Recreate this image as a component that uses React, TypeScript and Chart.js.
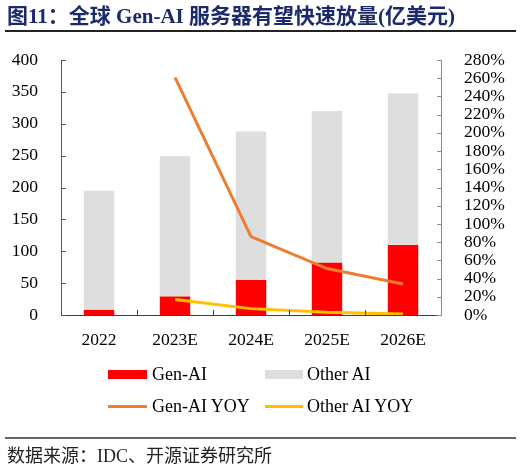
import React, { useEffect, useRef } from "react";
import { Chart, registerables } from "chart.js";

Chart.register(...registerables);

const categories = ["2022", "2023E", "2024E", "2025E", "2026E"];
const genAI = [8, 29, 55, 82, 110];
const otherAI = [187, 220, 233, 238, 238];
const genAIYoy = [null, 261, 86, 51, 34];
const otherAIYoy = [null, 17, 7, 3, 1];
const leftTicks = [0, 50, 100, 150, 200, 250, 300, 350, 400];
const rightTickStep = 20;

const SERIF = "'Liberation Serif', 'Times New Roman', 'Noto Sans CJK SC', serif";

const tickPlugin = {
  id: "innerTicks",
  afterDraw(chart: any) {
    const ctx = chart.ctx;
    const x = chart.scales.x;
    const y = chart.scales.y;
    const y1 = chart.scales.y1;
    const area = chart.chartArea;
    ctx.save();
    ctx.lineWidth = 1;
    ctx.strokeStyle = "#404040";
    for (let i = 1; i < categories.length; i++) {
      const px = Math.round((x.getPixelForValue(i - 1) + x.getPixelForValue(i)) / 2) + 0.5;
      ctx.beginPath();
      ctx.moveTo(px, area.bottom);
      ctx.lineTo(px, area.bottom - 5);
      ctx.stroke();
    }
    ctx.strokeStyle = "#595959";
    y.ticks.forEach((t: any) => {
      const py = Math.round(y.getPixelForValue(t.value)) + 0.5;
      ctx.beginPath();
      ctx.moveTo(area.left, py);
      ctx.lineTo(area.left + 5, py);
      ctx.stroke();
    });
    ctx.strokeStyle = "#8c8c8c";
    y1.ticks.forEach((t: any) => {
      const py = Math.round(y1.getPixelForValue(t.value)) + 0.5;
      ctx.beginPath();
      ctx.moveTo(area.right - 4, py);
      ctx.lineTo(area.right, py);
      ctx.stroke();
    });
    ctx.restore();
  },
};

function ChartCanvas() {
  const ref = useRef<HTMLCanvasElement | null>(null);
  useEffect(() => {
    if (!ref.current) return;
    const font = { family: SERIF, size: 17.5 };
    const chart = new Chart(ref.current, {
      type: "bar",
      data: {
        labels: categories,
        datasets: [
          {
            type: "bar",
            label: "Gen-AI",
            data: genAI,
            backgroundColor: "#FF0000",
            stack: "s",
            yAxisID: "y",
            order: 2,
            barPercentage: 0.5,
            categoryPercentage: 0.8,
          },
          {
            type: "bar",
            label: "Other AI",
            data: otherAI,
            backgroundColor: "#DEDEDE",
            stack: "s",
            yAxisID: "y",
            order: 2,
            barPercentage: 0.5,
            categoryPercentage: 0.8,
          },
          {
            type: "line",
            label: "Gen-AI YOY",
            data: genAIYoy as any,
            borderColor: "#ED7D31",
            backgroundColor: "#ED7D31",
            borderWidth: 3,
            pointRadius: 0,
            yAxisID: "y1",
            order: 1,
          },
          {
            type: "line",
            label: "Other AI YOY",
            data: otherAIYoy as any,
            borderColor: "#FFC000",
            backgroundColor: "#FFC000",
            borderWidth: 3,
            pointRadius: 0,
            yAxisID: "y1",
            order: 0,
          },
        ],
      } as any,
      options: {
        responsive: false,
        animation: false,
        devicePixelRatio: 1,
        layout: { padding: { top: 60, bottom: 103, left: 0, right: 0 } },
        plugins: { legend: { display: false }, tooltip: { enabled: false } },
        scales: {
          x: {
            stacked: true,
            grid: { display: false },
            border: { display: true, color: "#404040", width: 1 },
            ticks: { font, color: "#000", padding: 7 },
            afterFit: (s: any) => {
              s.height = 50;
            },
          },
          y: {
            stacked: true,
            min: 0,
            max: 400,
            afterBuildTicks: (s: any) => {
              s.ticks = leftTicks.map((v) => ({ value: v }));
            },
            grid: { display: false },
            border: { display: true, color: "#595959", width: 1 },
            ticks: { font, color: "#000", padding: 15, autoSkip: false },
            afterFit: (s: any) => {
              s.width = 61;
            },
          },
          y1: {
            position: "right",
            min: 0,
            max: 280,
            grid: { display: false },
            border: { display: true, color: "#8c8c8c", width: 1 },
            ticks: {
              font,
              color: "#000",
              padding: 15,
              stepSize: rightTickStep,
              autoSkip: false,
              callback: (v: any) => v + "%",
            },
            afterFit: (s: any) => {
              s.width = 81;
            },
          },
        },
      } as any,
      plugins: [tickPlugin],
    });
    return () => chart.destroy();
  }, []);
  return (
    <canvas
      ref={ref}
      width={522}
      height={468}
      style={{ position: "absolute", left: 0, top: 0, width: 522, height: 468 }}
    />
  );
}

const legendText: React.CSSProperties = {
  position: "absolute",
  fontFamily: SERIF,
  fontSize: 18,
  color: "#000",
  lineHeight: "20px",
  whiteSpace: "nowrap",
};

export default function App() {
  return (
    <div
      style={{
        position: "fixed",
        left: 0,
        top: 0,
        width: 522,
        height: 468,
        background: "#fff",
        overflow: "hidden",
      }}
    >
      <ChartCanvas />
      <div
        style={{
          position: "absolute",
          left: 7,
          top: 3,
          fontFamily: "'Liberation Serif', 'Noto Sans CJK SC', serif",
          fontWeight: "bold",
          fontSize: 21,
          lineHeight: "26px",
          color: "#1B2A6B",
          whiteSpace: "nowrap",
        }}
      >
        图11：全球 Gen-AI 服务器有望快速放量(亿美元)
      </div>
      <div style={{ position: "absolute", left: 5, top: 30, width: 511, height: 1.5, background: "#222" }} />
      <div style={{ position: "absolute", left: 108, top: 370, width: 39, height: 9, background: "#FF0000" }} />
      <div style={{ ...legendText, left: 152, top: 364 }}>Gen-AI</div>
      <div style={{ position: "absolute", left: 265, top: 370, width: 38, height: 9, background: "#DEDEDE" }} />
      <div style={{ ...legendText, left: 307, top: 364 }}>Other AI</div>
      <div style={{ position: "absolute", left: 108, top: 405, width: 39, height: 3, background: "#ED7D31" }} />
      <div style={{ ...legendText, left: 152, top: 396 }}>Gen-AI YOY</div>
      <div style={{ position: "absolute", left: 265, top: 405, width: 38, height: 3, background: "#FFC000" }} />
      <div style={{ ...legendText, left: 307, top: 396 }}>Other AI YOY</div>
      <div style={{ position: "absolute", left: 5, top: 437, width: 511, height: 1.5, background: "#666" }} />
      <div
        style={{
          position: "absolute",
          left: 7,
          top: 445,
          fontFamily: "'Liberation Serif', 'Noto Sans CJK SC', serif",
          fontSize: 18,
          lineHeight: "22px",
          color: "#222",
          whiteSpace: "nowrap",
        }}
      >
        数据来源：IDC、开源证券研究所
      </div>
    </div>
  );
}
